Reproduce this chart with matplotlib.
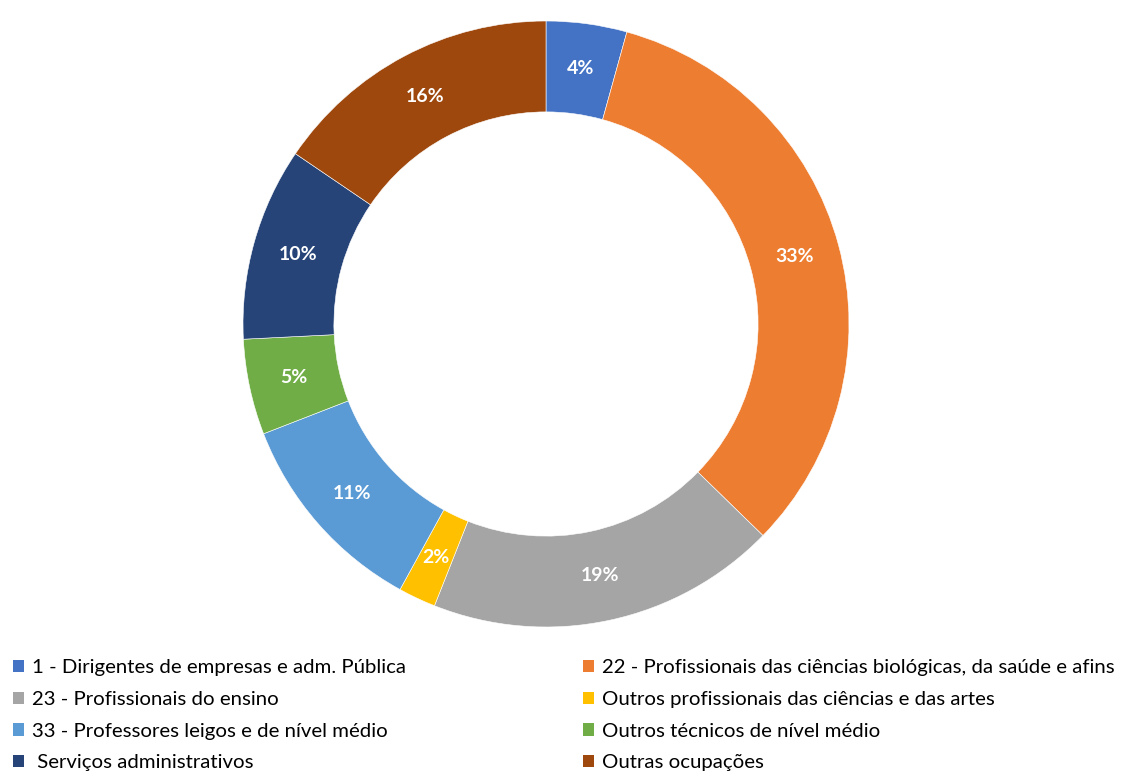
import matplotlib.pyplot as plt
from matplotlib.patches import Patch

# -----------------------------
# Data
# -----------------------------
categories = [
    "1 - Dirigentes de empresas e adm. Pública",
    "22 - Profissionais das ciências biológicas, da saúde e afins",
    "23 - Profissionais do ensino",
    "Outros profissionais das ciências e das artes",
    "33 - Professores leigos e de nível médio",
    "Outros técnicos de nível médio",
    " Serviços administrativos",
    "Outras ocupações",
]
shares = [4.3, 33.0, 18.7, 2.0, 11.1, 5.1, 10.3, 15.5]
colors = ["#4472C4", "#ED7D31", "#A5A5A5", "#FFC000",
          "#5B9BD5", "#70AD47", "#264478", "#9E480E"]

plt.rcParams["font.family"] = ["Lato", "DejaVu Sans"]

# -----------------------------
# Donut
# -----------------------------
fig = plt.figure(figsize=(11.36, 7.76), dpi=100)
W, H = 1136, 776
cx, cy, R = 546, 324, 303
ax = fig.add_axes([(cx - R) / W, (H - cy - R) / H, 2 * R / W, 2 * R / H])

wedges, texts, autotexts = ax.pie(
    shares,
    colors=colors,
    startangle=90,
    counterclock=False,
    radius=1.0,
    autopct="%.0f%%",
    pctdistance=0.85,
    wedgeprops=dict(width=0.30, edgecolor="white", linewidth=0.4),
    textprops=dict(color="white", fontsize=14, fontweight="bold"),
)
ax.set_xlim(-1, 1)
ax.set_ylim(-1, 1)
ax.set_aspect("equal")

# -----------------------------
# Legend (two columns, row-wise order)
# -----------------------------
handles = [Patch(facecolor=c) for c in colors]
for col, x0 in enumerate([0.004, 0.506]):
    idx = list(range(col, len(categories), 2))
    fig.legend(
        [handles[i] for i in idx],
        [categories[i] for i in idx],
        loc="upper left",
        bbox_to_anchor=(x0, 0.161),
        frameon=False,
        fontsize=14.7,
        handlelength=0.55,
        handleheight=0.55,
        handletextpad=0.4,
        labelspacing=0.72,
        borderaxespad=0,
    )

plt.savefig("out.png", dpi=100)
